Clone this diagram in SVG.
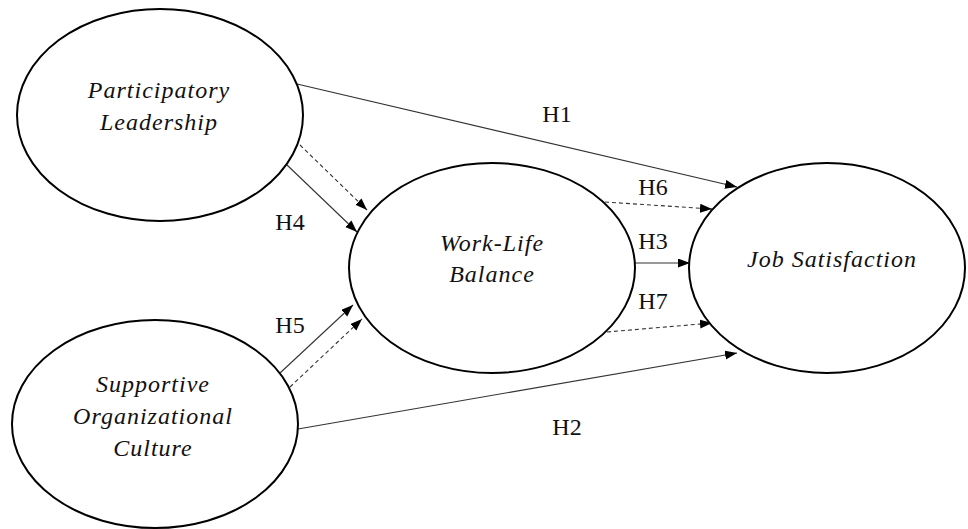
<svg xmlns="http://www.w3.org/2000/svg" width="968" height="529" viewBox="0 0 968 529">
<defs>
<marker id="arr" markerWidth="13" markerHeight="10" refX="12" refY="4.5" orient="auto" markerUnits="userSpaceOnUse">
<path d="M0,0 L12,4.5 L0,9 z" fill="#000"/>
</marker>
<style>
.node ellipse{fill:#fff;stroke:#000;stroke-width:2}
.nt{font-family:"Liberation Serif","Times New Roman",serif;font-style:italic;font-size:24px;letter-spacing:1px;fill:#111;text-anchor:middle}
.lb{font-family:"Liberation Serif","Times New Roman",serif;font-size:24px;fill:#111;text-anchor:middle}
.c{stroke:#333;stroke-width:1.1;fill:none;marker-end:url(#arr)}
.d{stroke-dasharray:4,3}
</style>
</defs>
<rect width="968" height="529" fill="#fff"/>
<g id="connectors">
<line class="c" x1="297" y1="84" x2="737" y2="187"/>
<line class="c d" x1="605" y1="202" x2="712" y2="209"/>
<line class="c" x1="635" y1="263" x2="690" y2="263"/>
<line class="c d" x1="607" y1="332" x2="712" y2="323"/>
<line class="c" x1="298" y1="429" x2="737" y2="353"/>
<line class="c" x1="287" y1="165" x2="357" y2="232"/>
<line class="c d" x1="300" y1="145" x2="367" y2="210"/>
<line class="c" x1="280" y1="373" x2="353" y2="305"/>
<line class="c d" x1="290" y1="387" x2="362" y2="319"/>
<text class="lb" x="557" y="122">H1</text>
<text class="lb" x="653" y="195">H6</text>
<text class="lb" x="653" y="249">H3</text>
<text class="lb" x="653" y="309">H7</text>
<text class="lb" x="290" y="230">H4</text>
<text class="lb" x="290" y="333">H5</text>
<text class="lb" x="567" y="435">H2</text>
</g>
<g id="participatory-leadership" class="node">
<ellipse cx="160" cy="115" rx="143" ry="106"/>
<text class="nt" x="159" y="98">Participatory</text>
<text class="nt" x="159" y="130">Leadership</text>
</g>
<g id="supportive-culture" class="node">
<ellipse cx="155" cy="424" rx="143" ry="104"/>
<text class="nt" x="153" y="392">Supportive</text>
<text class="nt" x="153" y="424">Organizational</text>
<text class="nt" x="153" y="456">Culture</text>
</g>
<g id="work-life-balance" class="node">
<ellipse cx="492" cy="268" rx="143" ry="105"/>
<text class="nt" x="492" y="251">Work-Life</text>
<text class="nt" x="492" y="282">Balance</text>
</g>
<g id="job-satisfaction" class="node">
<ellipse cx="827" cy="268" rx="138" ry="105"/>
<text class="nt" x="832" y="267">Job Satisfaction</text>
</g>
</svg>
